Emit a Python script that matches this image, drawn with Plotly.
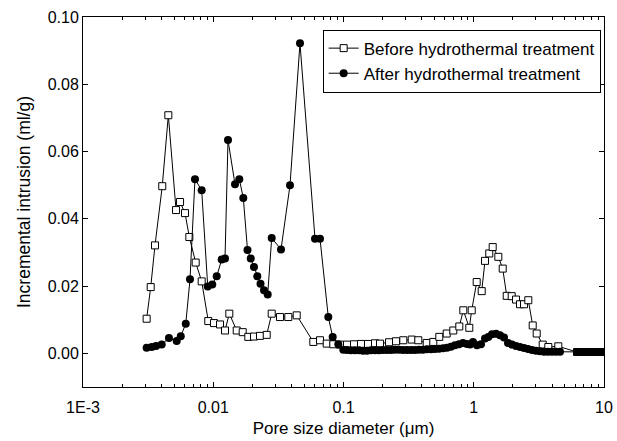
import plotly.graph_objects as go

# Pore size diameter (µm) and incremental intrusion (ml/g), before treatment
before_d = [0.00308, 0.00331, 0.00357, 0.00406, 0.00452, 0.00518, 0.00556, 0.00607, 0.00655, 0.00733,
            0.00815, 0.00916, 0.01013, 0.01127, 0.01231, 0.01328, 0.01514, 0.01683, 0.01858, 0.02055,
            0.02285, 0.02573, 0.02811, 0.03254, 0.0377, 0.04373, 0.05865, 0.066, 0.0743, 0.0835,
            0.094, 0.1064, 0.1204, 0.1362, 0.1542, 0.1745, 0.1906, 0.2236, 0.253, 0.2878,
            0.3339, 0.3752, 0.4354, 0.4892, 0.544, 0.6199, 0.6966, 0.7747, 0.8316, 0.9243,
            0.9645, 1.0535, 1.151, 1.22, 1.316, 1.398, 1.544, 1.669, 1.791, 1.956,
            2.111, 2.265, 2.431, 2.623, 2.836, 3.043, 3.384, 3.736, 4.459, 6.204,
            7.148, 8.232, 9.485]
before_v = [0.0103, 0.0197, 0.0321, 0.0497, 0.0708, 0.0426, 0.045, 0.0417, 0.0346, 0.027,
            0.0214, 0.0096, 0.009, 0.0086, 0.0068, 0.0118, 0.0068, 0.0063, 0.0049, 0.005,
            0.0052, 0.0055, 0.0118, 0.0108, 0.0108, 0.0113, 0.0034, 0.0039, 0.0029, 0.0027,
            0.0026, 0.0026, 0.0027, 0.0028, 0.0028, 0.003, 0.0029, 0.0033, 0.0036, 0.0039,
            0.0041, 0.0039, 0.0031, 0.0034, 0.0049, 0.0059, 0.0068, 0.008, 0.0128, 0.0076,
            0.0128, 0.0212, 0.0185, 0.0275, 0.0297, 0.0316, 0.0287, 0.0252, 0.0171, 0.017,
            0.016, 0.0146, 0.0146, 0.0158, 0.0083, 0.0059, 0.0026, 0.0019, 0.0021, 0.0004,
            0.0004, 0.0004, 0.0004]

# After hydrothermal treatment
after_d = [0.00308, 0.00337, 0.00364, 0.00402, 0.00457, 0.00524, 0.00563, 0.00615, 0.00663, 0.00724,
           0.00815, 0.00907, 0.00983, 0.01063, 0.01161, 0.01231, 0.01298, 0.01469, 0.01585, 0.01701,
           0.01832, 0.0194, 0.02055, 0.02179, 0.02306, 0.02453, 0.02618, 0.02811, 0.03313, 0.03884,
           0.04634, 0.06042, 0.066, 0.07644, 0.08262, 0.09123, 0.09966,
           0.1064, 0.1142, 0.1226, 0.1315, 0.1411, 0.1515, 0.1626, 0.1745, 0.1873, 0.201,
           0.2158, 0.2316, 0.2485, 0.2668, 0.2863, 0.3073, 0.3298, 0.354, 0.3799, 0.4078,
           0.4377, 0.4697, 0.5042, 0.5411, 0.5808, 0.6233, 0.669, 0.718, 0.7706, 0.8272,
           0.8878, 0.9359, 0.9867, 1.059, 1.137, 1.22, 1.293, 1.381, 1.482, 1.591,
           1.707, 1.832, 1.966, 2.111, 2.265, 2.431, 2.609, 2.8, 3.005, 3.226,
           3.462, 3.715, 3.988, 4.28, 4.594, 6.204, 6.657, 7.148, 7.669, 8.232,
           8.836, 9.485]
after_v = [0.0017, 0.0019, 0.0022, 0.0026, 0.0046, 0.0037, 0.0051, 0.0088, 0.022, 0.0518,
           0.0485, 0.0199, 0.0205, 0.0229, 0.0279, 0.0282, 0.0634, 0.0503, 0.0518, 0.0462,
           0.0307, 0.0282, 0.0257, 0.0229, 0.0207, 0.0188, 0.0175, 0.0343, 0.0309, 0.05,
           0.0922, 0.0341, 0.0341, 0.0108, 0.0049, 0.0027, 0.0011,
           0.001, 0.0009, 0.0009, 0.0009, 0.0008, 0.0008, 0.0009, 0.0009, 0.0009, 0.001,
           0.001, 0.001, 0.0011, 0.0011, 0.001, 0.001, 0.001, 0.001, 0.0011, 0.0011,
           0.0012, 0.0012, 0.0013, 0.0014, 0.0015, 0.0017, 0.002, 0.0024, 0.0027, 0.0031,
           0.0028, 0.0026, 0.0034, 0.0024, 0.0027, 0.0044, 0.0049, 0.0057, 0.0058, 0.0054,
           0.0047, 0.0031, 0.0026, 0.0022, 0.0019, 0.0016, 0.0013, 0.001, 0.0008, 0.0006,
           0.0005, 0.0005, 0.0005, 0.0005, 0.0005, 0.0004, 0.0004, 0.0004, 0.0004, 0.0004,
           0.0004, 0.0004]

x_tick_vals = [0.001, 0.01, 0.1, 1, 10]
x_tick_text = ["1E-3", "0.01", "0.1", "1", "10"]
y_tick_vals = [0.0, 0.02, 0.04, 0.06, 0.08, 0.10]

FONT = "Liberation Sans, Arial, sans-serif"

fig = go.Figure()
fig.add_trace(go.Scatter(
    x=before_d, y=before_v, mode="lines+markers",
    name="Before hydrothermal treatment",
    line=dict(color="black", width=1),
    marker=dict(symbol="square", size=7, color="white", line=dict(color="black", width=1)),
))
fig.add_trace(go.Scatter(
    x=after_d, y=after_v, mode="lines+markers",
    name="After hydrothermal treatment",
    line=dict(color="black", width=1),
    marker=dict(symbol="circle", size=8, color="black"),
))

minor_vals = [m * 10 ** e for e in range(-3, 1) for m in range(2, 10)]

fig.update_xaxes(
    type="log", range=[-3, 1],
    tickmode="array", tickvals=x_tick_vals, ticktext=x_tick_text,
    ticks="inside", ticklen=5, tickwidth=1, tickcolor="black",
    minor=dict(tickmode="array", tickvals=minor_vals, ticks="inside", ticklen=3,
               tickcolor="black", showgrid=False),
    showline=True, linecolor="black", linewidth=1, mirror="ticks",
    showgrid=False, zeroline=False, automargin=False,
    ticklabelstandoff=6,
    tickfont=dict(family=FONT, size=16, color="black"),
    title=dict(text="Pore size diameter (μm)", font=dict(family=FONT, size=17, color="black"),
               standoff=6),
)
fig.update_yaxes(
    range=[-0.01, 0.10],
    tickmode="array", tickvals=y_tick_vals, tickformat=".2f",
    ticks="inside", ticklen=5, tickwidth=1, tickcolor="black",
    showline=True, linecolor="black", linewidth=1, mirror="ticks",
    showgrid=False, zeroline=False, automargin=False,
    tickfont=dict(family=FONT, size=16, color="black"),
    title=dict(text="Incremental intrusion (ml/g)", font=dict(family=FONT, size=17.5, color="black"),
               standoff=12),
)

fig.update_layout(
    width=617, height=441,
    margin=dict(l=83, r=13, t=17, b=54),
    paper_bgcolor="white", plot_bgcolor="white",
    showlegend=True,
    legend=dict(
        x=0.46, y=0.966, xanchor="left", yanchor="top",
        bgcolor="white", bordercolor="black", borderwidth=1,
        font=dict(family=FONT, size=17, color="black"),
        tracegroupgap=0, itemwidth=30,
    ),
)

fig.write_html("out.html")
